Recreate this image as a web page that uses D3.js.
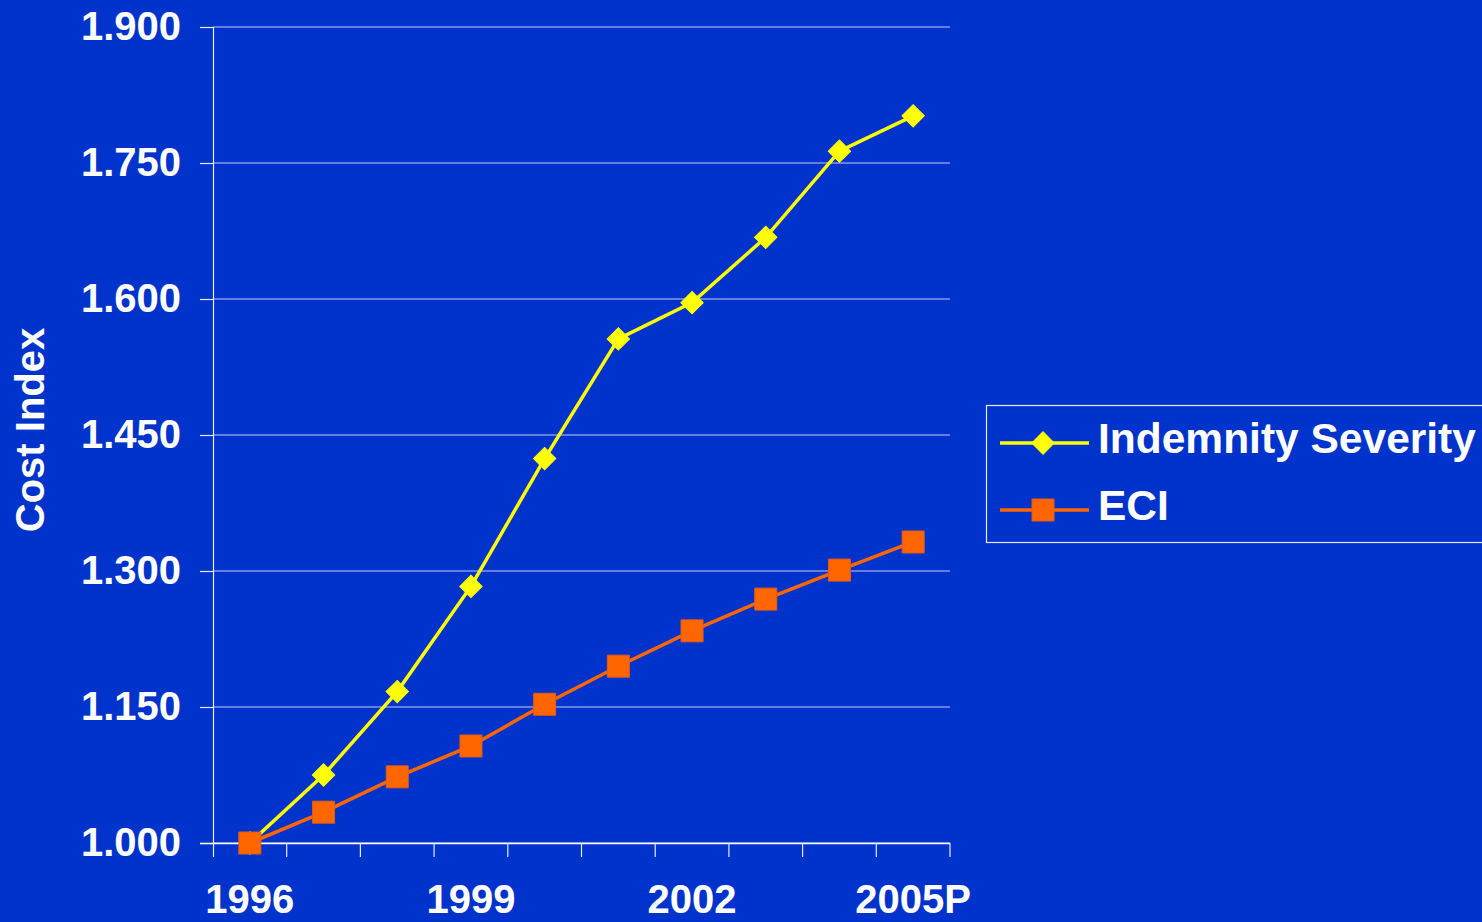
<!DOCTYPE html>
<html>
<head>
<meta charset="utf-8">
<script src="https://cdn.jsdelivr.net/npm/d3@7"></script>
<style>
  html, body { margin: 0; padding: 0; background: #0033CC; }
  svg { display: block; }
  text { font-family: "Liberation Sans", Arial, sans-serif; font-weight: bold; fill: #ffffff; }
</style>
</head>
<body>
<svg id="chart" width="1482" height="922"></svg>
<script>
// Cost index values, 1996 = 1.000
const years = ["1996", "1997", "1998", "1999", "2000", "2001", "2002", "2003", "2004", "2005P"];
const indemnitySeverity = [1.000, 1.075, 1.167, 1.283, 1.424, 1.556, 1.596, 1.668, 1.763, 1.802];
const eci = [1.000, 1.034, 1.073, 1.107, 1.153, 1.195, 1.234, 1.269, 1.301, 1.332];
const yTicks = [1.000, 1.150, 1.300, 1.450, 1.600, 1.750, 1.900];
const xLabelYears = ["1996", "1999", "2002", "2005P"];

const series = [
  { name: "Indemnity Severity", values: indemnitySeverity, color: "#FFFF00", stroke: "#FFFF00", symbol: "diamond" },
  { name: "ECI", values: eci, color: "#FF6600", stroke: "#E85A10", symbol: "square" }
];

const svg = d3.select("#chart");
const plotLeft = 213, plotRight = 950, plotTop = 27, plotBottom = 843;

const x = d3.scaleBand().domain(years).range([plotLeft, plotRight]).padding(0);
const y = d3.scaleLinear().domain([1.0, 1.9]).range([plotBottom, plotTop]);

// horizontal gridlines
svg.append("g")
  .selectAll("line")
  .data(yTicks)
  .join("line")
  .attr("x1", plotLeft).attr("x2", plotRight)
  .attr("y1", d => y(d)).attr("y2", d => y(d))
  .attr("stroke", "#c4ccf4")
  .attr("stroke-width", 1.2);

// y axis
const yAxis = svg.append("g")
  .attr("transform", `translate(${plotLeft},0)`)
  .call(d3.axisLeft(y).tickValues(yTicks).tickFormat(d3.format(".3f")).tickSize(13).tickPadding(19));
yAxis.select(".domain").attr("stroke", "#e8ecff").attr("stroke-width", 1.2)
  .attr("d", `M0.5,${plotTop}V${plotBottom + 14}`);
yAxis.selectAll(".tick line").attr("stroke", "#e8ecff").attr("stroke-width", 1.2);
yAxis.selectAll(".tick text").style("font-size", "40px").attr("fill", "#ffffff");

// x axis: labels centred on categories, ticks on category boundaries
const xAxis = svg.append("g")
  .attr("transform", `translate(0,${plotBottom})`)
  .call(d3.axisBottom(x).tickSize(0).tickPadding(42)
    .tickFormat(d => xLabelYears.includes(d) ? d : ""));
xAxis.select(".domain").attr("stroke", "#ffffff").attr("stroke-width", 1.5)
  .attr("d", `M${plotLeft - 13},0.5H${plotRight}`);
xAxis.selectAll(".tick text").style("font-size", "40px").attr("fill", "#ffffff");

const boundaries = years.map(d => x(d)).concat([x(years[years.length - 1]) + x.bandwidth()]);
svg.append("g")
  .selectAll("line")
  .data(boundaries.slice(1))
  .join("line")
  .attr("x1", d => d).attr("x2", d => d)
  .attr("y1", plotBottom).attr("y2", plotBottom + 14)
  .attr("stroke", "#e8ecff")
  .attr("stroke-width", 1.2);

// y axis title
svg.append("text")
  .attr("transform", "translate(44,430) rotate(-90)")
  .attr("text-anchor", "middle")
  .style("font-size", "40px")
  .text("Cost Index");

const line = d3.line()
  .x((d, i) => x(years[i]) + x.bandwidth() / 2)
  .y(d => y(d));

const diamondPath = d3.symbol(d3.symbolSquare, 250)();
const squarePath = d3.symbol(d3.symbolSquare, 484)();

series.forEach(s => {
  const g = svg.append("g");
  g.append("path")
    .attr("d", line(s.values))
    .attr("fill", "none")
    .attr("stroke", s.color)
    .attr("stroke-width", 3.5);
  g.selectAll("path.marker")
    .data(s.values)
    .join("path")
    .attr("class", "marker")
    .attr("d", s.symbol === "diamond" ? diamondPath : squarePath)
    .attr("transform", (d, i) => `translate(${x(years[i]) + x.bandwidth() / 2},${y(d)})` + (s.symbol === "diamond" ? " rotate(45)" : ""))
    .attr("fill", s.color)
    .attr("stroke", s.stroke)
    .attr("stroke-width", 1);
});

// legend
const legend = svg.append("g");
legend.append("rect")
  .attr("x", 986.5).attr("y", 405.5)
  .attr("width", 520).attr("height", 137)
  .attr("fill", "none")
  .attr("stroke", "#e8ecff")
  .attr("stroke-width", 1.2);

series.forEach((s, i) => {
  const cy = 443 + i * 67;
  const gi = legend.append("g");
  gi.append("line")
    .attr("x1", 1000).attr("x2", 1089)
    .attr("y1", cy).attr("y2", cy)
    .attr("stroke", s.color).attr("stroke-width", 3.5);
  gi.append("path")
    .attr("d", s.symbol === "diamond" ? diamondPath : squarePath)
    .attr("transform", `translate(1043,${cy})` + (s.symbol === "diamond" ? " rotate(45)" : ""))
    .attr("fill", s.color)
    .attr("stroke", s.stroke)
    .attr("stroke-width", 1);
  gi.append("text")
    .attr("x", 1098).attr("y", cy + 10)
    .style("font-size", "42.5px")
    .text(s.name);
});
</script>
</body>
</html>
